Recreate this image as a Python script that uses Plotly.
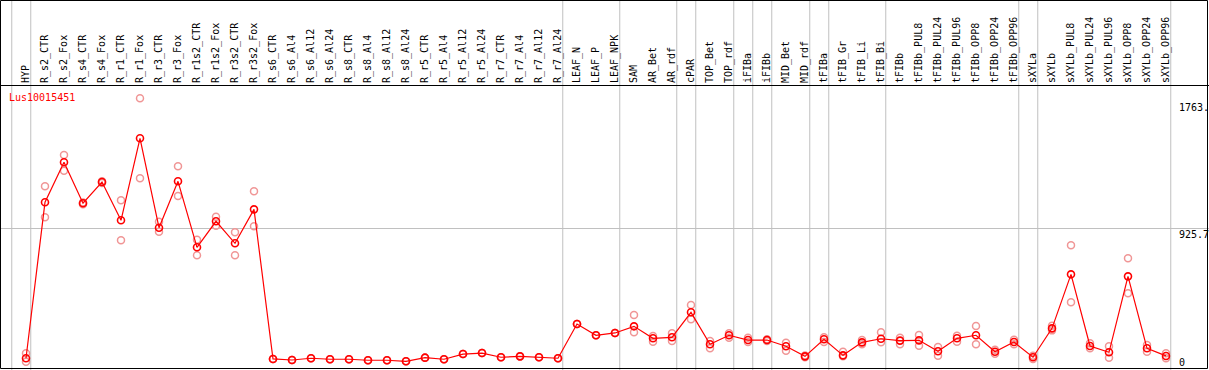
import plotly.graph_objects as go

categories = [
    "HYP", "R_s2_CTR", "R_s2_Fox", "R_s4_CTR", "R_s4_Fox", "R_r1_CTR", "R_r1_Fox",
    "R_r3_CTR", "R_r3_Fox", "R_r1s2_CTR", "R_r1s2_Fox", "R_r3s2_CTR", "R_r3s2_Fox",
    "R_s6_CTR", "R_s6_Al4", "R_s6_Al12", "R_s6_Al24", "R_s8_CTR", "R_s8_Al4", "R_s8_Al12",
    "R_s8_Al24", "R_r5_CTR", "R_r5_Al4", "R_r5_Al12", "R_r5_Al24", "R_r7_CTR", "R_r7_Al4",
    "R_r7_Al12", "R_r7_Al24", "LEAF_N", "LEAF_P", "LEAF_NPK", "SAM", "AR_Bet", "AR_rdf",
    "cPAR", "TOP_Bet", "TOP_rdf", "iFIBa", "iFIBb", "MID_Bet", "MID_rdf", "tFIBa",
    "tFIB_Gr", "tFIB_Li", "tFIB_Bi", "tFIBb", "tFIBb_PUL8", "tFIBb_PUL24", "tFIBb_PUL96",
    "tFIBb_OPP8", "tFIBb_OPP24", "tFIBb_OPP96", "sXYLa", "sXYLb", "sXYLb_PUL8",
    "sXYLb_PUL24", "sXYLb_PUL96", "sXYLb_OPP8", "sXYLb_OPP24", "sXYLb_OPP96",
]

mean_values = [
    26, 1106, 1383, 1099, 1246, 981, 1549, 930, 1251, 794, 974, 822, 1057,
    21, 14, 26, 19, 19, 12, 12, 5, 30, 19, 55, 62, 33, 39, 33, 26,
    263, 185, 201, 247, 164, 171, 344, 123, 185, 152, 152, 109, 39, 157,
    46, 136, 161, 148, 150, 74, 164, 185, 71, 138, 33, 233, 607, 111, 67,
    593, 95, 42,
]

rep_high = [
    60, 1217, 1433, 1105, 1252, 1120, 1826, 971, 1355, 847, 1006, 898, 1182,
    21, 14, 26, 19, 19, 12, 12, 5, 30, 19, 55, 62, 33, 39, 33, 26,
    263, 185, 201, 325, 180, 199, 395, 145, 199, 168, 158, 134, 45, 171,
    71, 152, 206, 168, 187, 104, 182, 249, 85, 154, 44, 251, 808, 129, 109,
    718, 118, 60,
]

rep_low = [
    2, 1002, 1325, 1093, 1240, 843, 1272, 902, 1149, 739, 944, 739, 940,
    21, 14, 26, 19, 19, 12, 12, 5, 30, 19, 55, 62, 33, 39, 33, 26,
    263, 185, 201, 206, 141, 145, 296, 95, 168, 138, 146, 78, 33, 138,
    40, 123, 136, 123, 113, 44, 141, 123, 57, 123, 21, 219, 413, 95, 30,
    476, 71, 26,
]

# group separators are drawn just after these category indices
separator_after = [-1, 0, 28, 31, 34, 35, 37, 38, 39, 41, 42, 45, 52, 53, 60]

y_tick_values = [1763, 925.7, 0]
y_tick_labels = ["1763.", "925.7", "0"]
gene_label = "Lus10015451"

W, H = 1209, 370
HEADER = 85           # pixel height of label header
X0_PX, STEP_PX = 26, 19
ZERO_PX = 362.0
PX_PER_UNIT = (362.0 - 228.3) / 925.7

x_pos = list(range(len(categories)))
FONT = "DejaVu Sans Mono"

fig = go.Figure()

fig.add_trace(go.Scatter(
    x=x_pos + x_pos, y=rep_high + rep_low, mode="markers",
    marker=dict(symbol="circle-open", size=7, color="rgb(240,150,150)",
                line=dict(width=1.5, color="rgb(240,150,150)")),
    hoverinfo="skip", showlegend=False, cliponaxis=False,
))
fig.add_trace(go.Scatter(
    x=x_pos, y=mean_values, mode="lines+markers",
    line=dict(color="red", width=1.2),
    marker=dict(symbol="circle-open", size=7, color="red",
                line=dict(width=1.6, color="red")),
    showlegend=False, cliponaxis=False,
))

shapes = []
for i in separator_after:
    shapes.append(dict(type="line", xref="x", yref="paper",
                       x0=i + 0.25, x1=i + 0.25, y0=0, y1=1,
                       line=dict(color="#c0c0c0", width=1), layer="below"))
shapes.append(dict(type="rect", xref="paper", yref="paper",
                   x0=0.5 / W, x1=(W - 1.5) / W, y0=1.5 / H, y1=(H - 0.5) / H,
                   line=dict(color="black", width=1)))
fig.update_layout(shapes=shapes)

annotations = []
for v, t in zip(y_tick_values, y_tick_labels):
    annotations.append(dict(
        x=1178 / W, xref="paper", y=v, yref="y", text=t, showarrow=False,
        xanchor="left", yanchor="top" if t == "925.7" else "middle",
        font=dict(family=FONT, size=10, color="black"), borderpad=0,
    ))
annotations.append(dict(
    x=8 / W, xref="paper", y=1 - 97 / H, yref="paper", text=gene_label,
    showarrow=False, xanchor="left", yanchor="middle",
    font=dict(family=FONT, size=10, color="red"), borderpad=0,
))
fig.update_layout(annotations=annotations)

x_min = -X0_PX / STEP_PX
x_max = (W - X0_PX) / STEP_PX
y_min = (ZERO_PX - H) / PX_PER_UNIT
y_max = ZERO_PX / PX_PER_UNIT

fig.update_layout(
    width=W, height=H,
    margin=dict(l=0, r=0, t=0, b=0, pad=0, autoexpand=False),
    paper_bgcolor="white", plot_bgcolor="white",
    xaxis=dict(
        range=[x_min, x_max], domain=[0, 1], anchor="free",
        position=1 - HEADER / H, side="top", automargin=False,
        tickmode="array", tickvals=x_pos, ticktext=categories,
        tickangle=-90, ticks="", showgrid=False, zeroline=False,
        showline=True, linecolor="black", linewidth=1,
        tickfont=dict(family=FONT, size=10, color="black"),
    ),
    yaxis=dict(
        range=[y_min, y_max], domain=[0, 1], automargin=False,
        tickmode="array", tickvals=[925.7], showticklabels=False,
        showgrid=True, gridcolor="#c0c0c0", gridwidth=1, zeroline=False,
        showline=False,
    ),
    hovermode=False,
)

fig.write_html(
    "out.html",
    config={"displayModeBar": False},
    post_script="document.body.style.margin='0px';document.body.style.overflow='hidden';",
)
